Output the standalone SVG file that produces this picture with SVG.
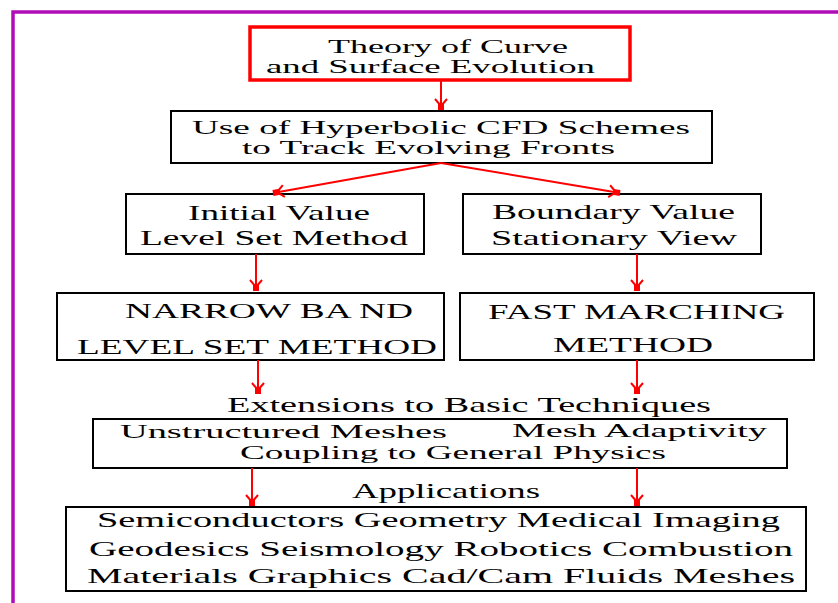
<svg xmlns="http://www.w3.org/2000/svg" width="838" height="603" viewBox="0 0 838 603">
<style>
.box{fill:#fff;stroke:#000;stroke-width:2}
.red{fill:#fff;stroke:#ff0000;stroke-width:3.5}
.t{font-family:"Liberation Serif","Times New Roman",serif;font-size:22px;fill:#000}
.s{font-size:19.5px}
.c{stroke:#ff0000;stroke-width:2;fill:none}
.frame{stroke:#b00cb8;stroke-width:3.5;fill:none}
</style>
<defs>
<marker id="ah" markerUnits="userSpaceOnUse" viewBox="-13 -8 14 16" refX="0" refY="0" markerWidth="14" markerHeight="16" orient="auto" overflow="visible">
<path d="M-11,-6 L-4,0 L-11,6" fill="none" stroke="#ff0000" stroke-width="2"/>
<rect x="-7" y="-3" width="7" height="6" fill="#ff0000"/>
</marker>
</defs>
<rect x="0" y="0" width="838" height="603" fill="#fff"/>
<path class="frame" d="M13,603 L13,12 L838,12"/>

<g id="n1">
<rect class="red" x="250" y="27" width="380" height="53"/>
<text class="t s" x="328" y="53" textLength="240" lengthAdjust="spacingAndGlyphs">Theory of Curve</text>
<text class="t s" x="266" y="73" textLength="329" lengthAdjust="spacingAndGlyphs">and Surface Evolution</text>
</g>
<g id="n2">
<rect class="box" x="171" y="111" width="541" height="52"/>
<text class="t s" x="192" y="134" textLength="498" lengthAdjust="spacingAndGlyphs">Use of Hyperbolic CFD Schemes</text>
<text class="t s" x="242" y="154" textLength="373" lengthAdjust="spacingAndGlyphs">to Track Evolving Fronts</text>
</g>
<g id="n3">
<rect class="box" x="126" y="194" width="298" height="60"/>
<text class="t" x="188" y="220" textLength="182" lengthAdjust="spacingAndGlyphs">Initial Value</text>
<text class="t" x="140" y="245" textLength="268" lengthAdjust="spacingAndGlyphs">Level Set Method</text>
</g>
<g id="n4">
<rect class="box" x="463" y="194" width="298" height="60"/>
<text class="t" x="492" y="219" textLength="243" lengthAdjust="spacingAndGlyphs">Boundary Value</text>
<text class="t" x="491" y="245" textLength="246" lengthAdjust="spacingAndGlyphs">Stationary View</text>
</g>
<g id="n5">
<rect class="box" x="57" y="293" width="387" height="67"/>
<text class="t" x="125" y="318" textLength="288" lengthAdjust="spacingAndGlyphs">NARROW BA ND</text>
<text class="t" x="77" y="354" textLength="360" lengthAdjust="spacingAndGlyphs">LEVEL SET METHOD</text>
</g>
<g id="n6">
<rect class="box" x="460" y="293" width="354" height="67"/>
<text class="t" x="488" y="319" textLength="297" lengthAdjust="spacingAndGlyphs">FAST MARCHING</text>
<text class="t" x="553" y="352" textLength="160" lengthAdjust="spacingAndGlyphs">METHOD</text>
</g>
<g id="n7">
<text class="t" x="227" y="412" textLength="484" lengthAdjust="spacingAndGlyphs">Extensions to Basic Techniques</text>
<rect class="box" x="93" y="419" width="694" height="49"/>
<text class="t s" x="120" y="438" textLength="327" lengthAdjust="spacingAndGlyphs">Unstructured Meshes</text>
<text class="t s" x="512" y="437" textLength="255" lengthAdjust="spacingAndGlyphs">Mesh Adaptivity</text>
<text class="t s" x="240" y="459" textLength="426" lengthAdjust="spacingAndGlyphs">Coupling to General Physics</text>
</g>
<g id="n8">
<text class="t" x="352" y="498" textLength="188" lengthAdjust="spacingAndGlyphs">Applications</text>
<rect class="box" x="66" y="507" width="740" height="84"/>
<text class="t" x="97" y="527" textLength="683" lengthAdjust="spacingAndGlyphs">Semiconductors  Geometry  Medical Imaging</text>
<text class="t" x="89" y="556" textLength="704" lengthAdjust="spacingAndGlyphs">Geodesics  Seismology  Robotics  Combustion</text>
<text class="t" x="87" y="583" textLength="708" lengthAdjust="spacingAndGlyphs">Materials  Graphics  Cad/Cam  Fluids  Meshes</text>
</g>

<g id="connectors">
<line class="c" x1="441" y1="80" x2="441" y2="110" marker-end="url(#ah)"/>
<line class="c" x1="441" y1="163" x2="273" y2="193" marker-end="url(#ah)"/>
<line class="c" x1="441" y1="163" x2="620" y2="193" marker-end="url(#ah)"/>
<line class="c" x1="256" y1="254" x2="256" y2="291" marker-end="url(#ah)"/>
<line class="c" x1="637" y1="254" x2="637" y2="291" marker-end="url(#ah)"/>
<line class="c" x1="258" y1="360" x2="258" y2="394" marker-end="url(#ah)"/>
<line class="c" x1="637" y1="360" x2="637" y2="394" marker-end="url(#ah)"/>
<line class="c" x1="252" y1="468" x2="252" y2="506" marker-end="url(#ah)"/>
<line class="c" x1="637" y1="468" x2="637" y2="506" marker-end="url(#ah)"/>
</g>
</svg>
